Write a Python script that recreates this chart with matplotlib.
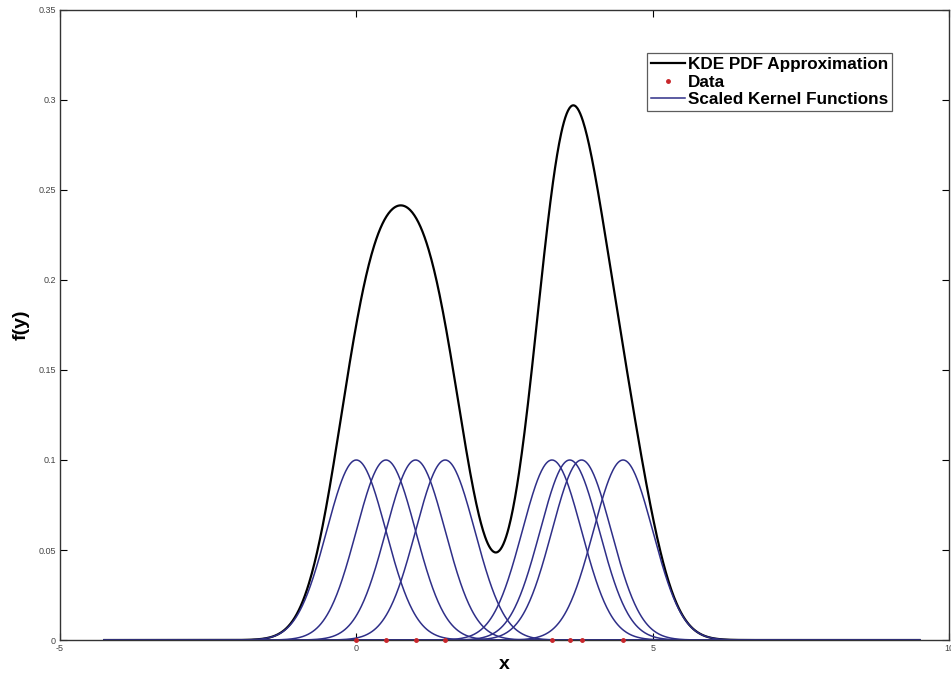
import matplotlib
matplotlib.use("Agg")
import matplotlib.pyplot as plt
import numpy as np

plt.rcParams["font.family"] = ["Liberation Sans", "DejaVu Sans"]

data = [0.0, 0.5, 1.0, 1.5, 3.3, 3.6, 3.8, 4.5]
bandwidth = 0.5
kernel_peak = 0.1
x_start, x_end = -4.25, 9.5

x_ticks = [-5, 0, 5, 10]
y_ticks = [0, 0.05, 0.1, 0.15, 0.2, 0.25, 0.3, 0.35]

xs = np.linspace(x_start, x_end, 1200)
kernels = [kernel_peak * np.exp(-(xs - d) ** 2 / (2 * bandwidth ** 2)) for d in data]
kde = np.sum(kernels, axis=0)

fig = plt.figure(figsize=(9.51, 6.79), dpi=100)
ax = fig.add_axes([0.063, 0.0574, 0.935, 0.928])

ax.plot(xs, kde, color="black", lw=1.6, label="KDE PDF Approximation")
ax.plot(data, np.zeros(len(data)), ".", color="#c8262a", ms=5, zorder=5,
        clip_on=False, label="Data")
for i, k in enumerate(kernels):
    ax.plot(xs, k, color="#2f2f88", lw=1.1,
            label="Scaled Kernel Functions" if i == 0 else None)

ax.set_xlim(-5, 10)
ax.set_ylim(0, 0.35)
ax.set_xticks(x_ticks)
ax.set_yticks(y_ticks)
ax.set_xticklabels([str(t) for t in x_ticks])
ax.set_yticklabels(["0", "0.05", "0.1", "0.15", "0.2", "0.25", "0.3", "0.35"])
ax.tick_params(direction="in", length=5, width=0.8, labelsize=6.5,
               labelcolor="#444444", top=True, right=True, pad=3)
for s in ax.spines.values():
    s.set_linewidth(1.0)
    s.set_color("#333333")

ax.set_xlabel("x", fontsize=14, fontweight="bold", labelpad=2)
ax.set_ylabel("f(y)", fontsize=14, fontweight="bold", labelpad=6)

leg = ax.legend(loc="upper right", bbox_to_anchor=(0.936, 0.932),
                prop={"weight": "bold", "size": 12.3}, frameon=True, fancybox=False,
                borderpad=0.25, labelspacing=0.15, handlelength=2.0, handletextpad=0.15,
                borderaxespad=0)
leg.get_frame().set_edgecolor("#333333")
leg.get_frame().set_linewidth(0.9)

fig.savefig("out.png", dpi=100)
